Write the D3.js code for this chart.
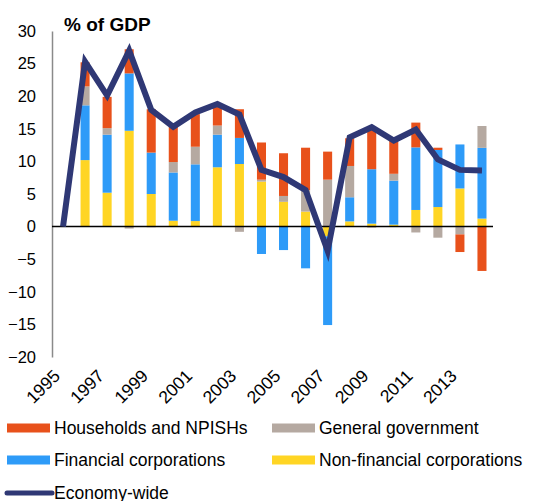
<!DOCTYPE html>
<html>
<head>
<meta charset="utf-8">
<script src="https://cdn.jsdelivr.net/npm/d3@7"></script>
<style>
  html, body { margin: 0; padding: 0; background: #fff; }
  svg { display: block; font-family: "Liberation Sans", Arial, sans-serif; }
</style>
</head>
<body>
<svg id="chart" width="539" height="501"></svg>
<script>
// Net lending by sector, % of GDP
const years = [1995, 1996, 1997, 1998, 1999, 2000, 2001, 2002, 2003, 2004,
               2005, 2006, 2007, 2008, 2009, 2010, 2011, 2012, 2013, 2014];
const nonFinancial = [0, 10.2, 5.2, 14.7, 5.0, 0.9, 0.85, 9.1, 9.6, 6.9,
                      3.8, 2.3, -1.5, 0.8, 0.45, 0.3, 2.55, 3.0, 5.85, 1.23];
const financial = [0, 8.4, 8.9, 8.8, 6.35, 7.4, 8.7, 5.0, 4.0, -4.2,
                   -3.6, -6.4, -13.6, 3.7, 8.35, 6.75, 9.6, 8.75, 6.75, 10.85];
const government = [0, 2.9, 1.0, -0.3, -0.1, 1.6, 2.7, 1.4, -0.8, 0.3,
                    0.9, 3.3, 7.2, 4.8, -0.15, 1.05, -0.9, -1.7, -1.2, 3.35];
const households = [0, 3.7, 4.8, 3.7, 6.65, 5.4, 5.0, 3.2, 4.4, 5.7,
                    6.55, 6.5, 4.3, 4.25, 6.5, 5.1, 3.8, 0.35, -2.7, -6.8];
const economyWide = [0, 25.3, 20.1, 27.0, 17.9, 15.3, 17.5, 18.8, 17.2, 8.7,
                     7.6, 5.6, -3.7, 13.7, 15.25, 13.2, 14.9, 10.3, 8.7, 8.6];
const yTicks = [-20, -15, -10, -5, 0, 5, 10, 15, 20, 25, 30];
const xTickYears = [1995, 1997, 1999, 2001, 2003, 2005, 2007, 2009, 2011, 2013];

const seriesKeys = ["nfc", "fin", "gov", "hh"];
const seriesNames = {
  hh: "Households and NPISHs",
  gov: "General government",
  fin: "Financial corporations",
  nfc: "Non-financial corporations"
};
const colors = { hh: "#E8511B", gov: "#B5A9A1", fin: "#2E9BF8", nfc: "#FFD524" };
const lineColor = "#2F3875";

const table = years.map((y, i) => ({
  year: y, nfc: nonFinancial[i], fin: financial[i], gov: government[i], hh: households[i]
}));

const svg = d3.select("#chart");
const plot = { left: 52, right: 493, top: 31, bottom: 357 };

const x = d3.scaleBand()
  .domain(years)
  .range([plot.left, plot.right])
  .paddingInner(0.59)
  .paddingOuter(0.295);

const y = d3.scaleLinear()
  .domain([-20, 30])
  .range([plot.bottom, plot.top]);

// Stacked bars: positives upward, negatives downward, same series order
const stacked = d3.stack().keys(seriesKeys).offset(d3.stackOffsetDiverging)(table);

svg.append("g").selectAll("g")
  .data(stacked)
  .join("g")
  .attr("fill", d => colors[d.key])
  .selectAll("rect")
  .data(d => d)
  .join("rect")
  .attr("x", d => x(d.data.year))
  .attr("width", x.bandwidth())
  .attr("y", d => y(Math.max(d[0], d[1])))
  .attr("height", d => Math.abs(y(d[0]) - y(d[1])));

// Y axis: line plus labels
const yAxis = d3.axisLeft(y).tickValues(yTicks).tickSize(0).tickPadding(16);
const yg = svg.append("g").attr("transform", `translate(${plot.left},0)`).call(yAxis);
yg.select(".domain").attr("stroke", "#8A8A8A").attr("stroke-width", 1.5);
yg.selectAll("text").attr("font-size", 16.5).attr("fill", "#000")
  .attr("font-family", "Liberation Sans, Arial, sans-serif");

// Zero baseline
svg.append("line")
  .attr("x1", plot.left).attr("x2", plot.right)
  .attr("y1", y(0)).attr("y2", y(0))
  .attr("stroke", "#000").attr("stroke-width", 1.5);

// X labels, rotated
const xAxis = d3.axisBottom(x).tickValues(xTickYears).tickSize(0).tickFormat(d3.format("d"));
const xg = svg.append("g").attr("transform", `translate(0,${plot.bottom})`).call(xAxis);
xg.select(".domain").remove();
xg.selectAll("text")
  .attr("font-size", 17.5).attr("fill", "#000")
  .attr("font-family", "Liberation Sans, Arial, sans-serif")
  .attr("text-anchor", "end")
  .attr("dy", null).attr("y", 0)
  .attr("transform", "translate(-2,20) rotate(-45)");

// Economy-wide line
const line = d3.line()
  .x((d, i) => x(years[i]) + x.bandwidth() / 2)
  .y(d => y(d));
svg.append("path")
  .datum(economyWide)
  .attr("fill", "none")
  .attr("stroke", lineColor)
  .attr("stroke-width", 6)
  .attr("stroke-linejoin", "miter")
  .attr("d", line);

// Title
svg.append("text")
  .attr("x", 64).attr("y", 31)
  .attr("font-size", 19).attr("font-weight", "bold")
  .text("% of GDP");

// Legend
const legendItems = [
  { key: "hh", col: 0, row: 0 },
  { key: "gov", col: 1, row: 0 },
  { key: "fin", col: 0, row: 1 },
  { key: "nfc", col: 1, row: 1 }
];
const colX = [7, 272];
const rowY = [428, 460, 493];
const legend = svg.append("g");
legendItems.forEach(it => {
  const g = legend.append("g");
  g.append("rect")
    .attr("x", colX[it.col]).attr("y", rowY[it.row] - 4.5)
    .attr("width", 43).attr("height", 9)
    .attr("fill", colors[it.key]);
  g.append("text")
    .attr("x", colX[it.col] + 47).attr("y", rowY[it.row] + 6)
    .attr("font-size", 17.5)
    .text(seriesNames[it.key]);
});
legend.append("line")
  .attr("x1", 7).attr("x2", 52)
  .attr("y1", rowY[2]).attr("y2", rowY[2])
  .attr("stroke", lineColor).attr("stroke-width", 5)
  .attr("stroke-linecap", "round");
legend.append("text")
  .attr("x", 54).attr("y", rowY[2] + 6)
  .attr("font-size", 17.5)
  .text("Economy-wide");
</script>
</body>
</html>
